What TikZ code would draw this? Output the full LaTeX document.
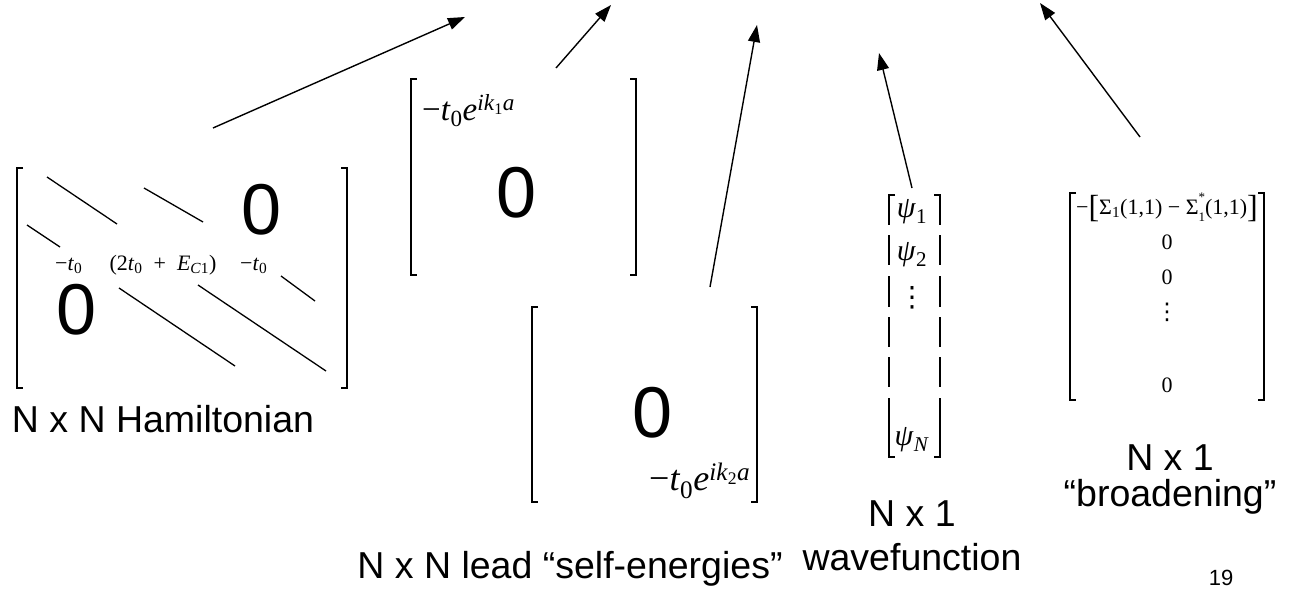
\documentclass[tikz,border=0pt]{standalone}
\usepackage{fontspec}
\setmainfont{Liberation Sans}
\newfontfamily\tms{Liberation Serif}
\newfontfamily\djv{DejaVu Sans}
\usetikzlibrary{arrows.meta}
\tikzset{
  x=1pt,y=-1pt,
  brk/.style={line width=1.4pt},
  diag/.style={line width=1.3pt},
  arr/.style={line width=1.4pt,-{Triangle[length=17pt,width=12pt]}},
  lbl/.style={font=\fontsize{37.5}{42}\selectfont,inner sep=0pt,anchor=base},
  zero/.style={font=\fontsize{72}{80}\selectfont,inner sep=0pt},
  eqh/.style={font=\tms\fontsize{22}{26}\selectfont,inner sep=0pt,anchor=base west},
  eql/.style={font=\tms\fontsize{33}{36}\selectfont,inner sep=0pt,anchor=base west},
  eqp/.style={font=\tms\fontsize{30}{33}\selectfont,inner sep=0pt},
  eqb/.style={font=\tms\fontsize{22}{26}\selectfont,inner sep=0pt,anchor=base},
}
\newcommand{\tz}{\textit{t}\textsubscript{0}}
\newcommand{\stsb}{{\fontsize{13}{13}\selectfont\rlap{\raisebox{0.95em}{*}}\raisebox{-0.55em}{1}}}
\begin{document}
\begin{tikzpicture}
\useasboundingbox (0,0) rectangle (1296,594);
% ---------- Hamiltonian ----------
\draw[brk] (23,168) -- (17,168) -- (17,388) -- (23,388);
\draw[brk] (341,168) -- (347,168) -- (347,388) -- (341,388);
\draw[diag] (47,177) -- (117,224);
\draw[diag] (144,188) -- (203,222);
\draw[diag] (27,225) -- (60,247);
\draw[diag] (281,276) -- (315,301);
\draw[diag] (119,288) -- (235,366);
\draw[diag] (198,285) -- (326,371);
\node[zero] (hza) at (262,210) {0};
\node[zero] (hzb) at (77,310) {0};
\node[eqh] (hl) at (55,270) {−\tz};
\node[eqh,anchor=base] (hc) at (163,270) {(2\tz\enspace+\enspace\textit{E}\textsubscript{\textit{C}1})};
\node[eqh] (hr) at (240,270) {−\tz};
\node[lbl] (hamL) at (163,432) {N x N Hamiltonian};
% ---------- upper lead ----------
\draw[brk] (417,79) -- (411,79) -- (411,275) -- (417,275);
\draw[brk] (630,79) -- (636,79) -- (636,275) -- (630,275);
\node[zero] (uz) at (517,193) {0};
\node[eql] (ut) at (422,120) {−\tz\textit{e}\textsuperscript{\textit{ik}\textsubscript{1}\textit{a}}};
% ---------- lower lead ----------
\draw[brk] (538,307) -- (532,307) -- (532,502) -- (538,502);
\draw[brk] (751,307) -- (757,307) -- (757,502) -- (751,502);
\node[zero] (lz) at (653,413) {0};
\node[eql,font=\tms\fontsize{36}{40}\selectfont] (lt) at (649,490) {−\tz\textit{e}\textsuperscript{\textit{ik}\textsubscript{2}\textit{a}}};
\node[lbl] (leadL) at (570,578) {N x N lead “self-energies”};
% ---------- wavefunction ----------
\foreach \xx/\dd in {889/6,940/-6}{
  \draw[brk] (\xx+\dd,195) -- (\xx,195) -- (\xx,225);
  \draw[brk] (\xx,235) -- (\xx,265);
  \draw[brk] (\xx,276) -- (\xx,307);
  \draw[brk] (\xx,317) -- (\xx,347);
  \draw[brk] (\xx,357) -- (\xx,387);
  \draw[brk] (\xx,398) -- (\xx,457) -- (\xx+\dd,457);
}
\node[eqp] (p1) at (912,212) {\textit{ψ}\textsubscript{1}};
\node[eqp] (p2) at (912,255) {\textit{ψ}\textsubscript{2}};
\node[inner sep=0pt,font=\djv\fontsize{28}{30}\selectfont] (p3) at (912,298) {⋮};
\node[eqp] (pn) at (912,440) {\textit{ψ}\textsubscript{\textit{N}}};
\node[lbl] (wf1) at (912,526) {N x 1};
\node[lbl] (wf2) at (912,570) {wavefunction};
% ---------- broadening ----------
\draw[brk] (1076,193) -- (1070,193) -- (1070,400) -- (1076,400);
\draw[brk] (1258,193) -- (1264,193) -- (1264,400) -- (1258,400);
\node[eqb] (b1) at (1167,214) {−{\fontsize{32}{32}\selectfont\raisebox{-0.12em}{[}}Σ\textsubscript{1}(1,1) − Σ\stsb(1,1){\fontsize{32}{32}\selectfont\raisebox{-0.12em}{]}}};
\node[eqb] (b2) at (1167,249) {0};
\node[eqb] (b3) at (1167,284) {0};
\node[inner sep=0pt,font=\djv\fontsize{23}{25}\selectfont] (b4) at (1167,312) {⋮};
\node[eqb] (b5) at (1167,392) {0};
\node[lbl] (br1) at (1170,470) {N x 1};
\node[lbl] (br2) at (1170,506) {“broadening”};
\node[font=\fontsize{22}{24}\selectfont,inner sep=0pt,anchor=base] (pg) at (1221,585) {19};
% ---------- arrows ----------
\coordinate (t1) at (213,128); \coordinate (h1) at (465,17);
\coordinate (t2) at (556,68);  \coordinate (h2) at (611,5);
\coordinate (t3) at (710,287); \coordinate (h3) at (757,25);
\coordinate (t4) at (912,188); \coordinate (h4) at (879,53);
\coordinate (t5) at (1140,137); \coordinate (h5) at (1040,3);
\draw[arr] (t1) -- (h1);
\draw[arr] (t2) -- (h2);
\draw[arr] (t3) -- (h3);
\draw[arr] (t4) -- (h4);
\draw[arr] (t5) -- (h5);
\end{tikzpicture}
\end{document}
